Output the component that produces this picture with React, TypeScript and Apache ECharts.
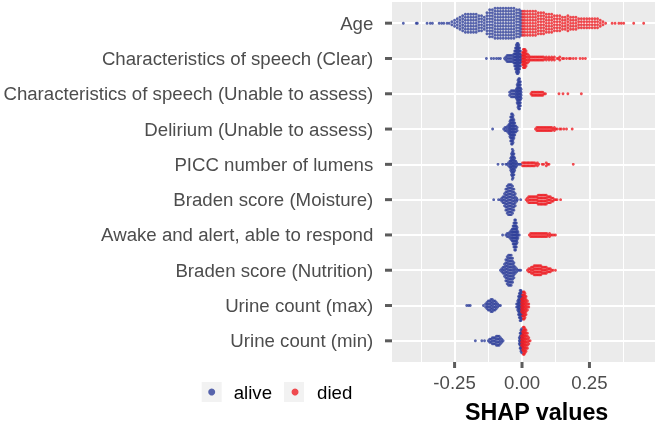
import React, { useEffect, useRef } from "react";
import * as echarts from "echarts";

const features = [
  "Age",
  "Characteristics of speech (Clear)",
  "Characteristics of speech (Unable to assess)",
  "Delirium (Unable to assess)",
  "PICC number of lumens",
  "Braden score (Moisture)",
  "Awake and alert, able to respond",
  "Braden score (Nutrition)",
  "Urine count (max)",
  "Urine count (min)",
];
const xTicks = [-0.25, 0, 0.25];
const xMinorLines = [-0.375, -0.125, 0.125, 0.375];
const groups = ["alive", "died"];

// [SHAP value, number of observations at that value]
const ageAlive = [
  [-0.44, 1], [-0.392, 1], [-0.388, 1], [-0.352, 1], [-0.34, 1], [-0.332, 1], [-0.307, 1], [-0.298, 1],
  [-0.29, 1], [-0.278, 1], [-0.27, 1],
  [-0.26, 2], [-0.25, 3], [-0.24, 4], [-0.23, 5], [-0.22, 6], [-0.21, 7], [-0.2, 7], [-0.19, 7], [-0.18, 7],
  [-0.17, 7], [-0.16, 6], [-0.15, 6], [-0.14, 5],
  [-0.13, 8], [-0.12, 10], [-0.11, 10], [-0.1, 11], [-0.09, 11], [-0.08, 11], [-0.07, 11], [-0.06, 11],
  [-0.05, 11], [-0.04, 11], [-0.03, 11], [-0.02, 10], [-0.01, 10], [-0.003, 9],
];
const ageDied = [
  [0.003, 9], [0.01, 9], [0.02, 9], [0.03, 9], [0.04, 9], [0.05, 9], [0.06, 8], [0.07, 8], [0.08, 8],
  [0.09, 7], [0.1, 7], [0.11, 7], [0.12, 6], [0.13, 6], [0.14, 6], [0.15, 5], [0.16, 5], [0.17, 6],
  [0.18, 5], [0.19, 5], [0.2, 5], [0.21, 4], [0.22, 4], [0.23, 4], [0.24, 4], [0.25, 4], [0.26, 4],
  [0.27, 4], [0.28, 4], [0.29, 3], [0.3, 2], [0.31, 1], [0.334, 1], [0.345, 1], [0.359, 1], [0.368, 1],
  [0.377, 1], [0.414, 1], [0.451, 1],
];
const clearAlive = [
  [-0.132, 1], [-0.114, 1], [-0.105, 1], [-0.095, 1], [-0.087, 1], [-0.08, 1], [-0.065, 1], [-0.06, 2],
  [-0.055, 3], [-0.05, 3], [-0.045, 3], [-0.04, 3], [-0.035, 3], [-0.03, 4], [-0.027, 6], [-0.024, 8],
  [-0.021, 10], [-0.018, 11], [-0.015, 11], [-0.012, 10], [-0.009, 8], [-0.006, 6], [-0.003, 3],
];
const clearDied = [
  [0.002, 5], [0.005, 7], [0.008, 7], [0.011, 7], [0.015, 6], [0.02, 4], [0.025, 3], [0.03, 2], [0.035, 2],
  [0.04, 2], [0.045, 2], [0.05, 2], [0.055, 2], [0.06, 2], [0.065, 2], [0.07, 2], [0.075, 2], [0.08, 2],
  [0.085, 1], [0.09, 2], [0.095, 1], [0.1, 2], [0.105, 1], [0.11, 2], [0.115, 1], [0.12, 2], [0.13, 1],
  [0.135, 1], [0.14, 2], [0.15, 1], [0.155, 1], [0.165, 1], [0.175, 1], [0.18, 1], [0.19, 1], [0.2, 1],
  [0.215, 1], [0.225, 1], [0.235, 1],
];
const unableAlive = [
  [-0.046, 2], [-0.04, 3], [-0.035, 3], [-0.03, 3], [-0.025, 3], [-0.021, 4], [-0.018, 7], [-0.015, 10],
  [-0.012, 11], [-0.009, 11], [-0.006, 9], [-0.003, 4],
];
const unableDied = [
  [0.033, 1], [0.037, 2], [0.042, 2], [0.047, 2], [0.052, 2], [0.057, 2], [0.062, 2], [0.067, 2],
  [0.072, 2], [0.077, 2], [0.082, 1], [0.087, 1], [0.137, 1], [0.152, 1], [0.17, 1], [0.22, 1],
];
const deliriumAlive = [
  [-0.109, 1], [-0.068, 1], [-0.063, 2], [-0.058, 2], [-0.053, 3], [-0.048, 4], [-0.045, 6], [-0.042, 9],
  [-0.039, 11], [-0.036, 11], [-0.033, 10], [-0.03, 7], [-0.027, 5], [-0.023, 3], [-0.018, 2],
];
const deliriumDied = [
  [0.05, 1], [0.055, 2], [0.06, 2], [0.065, 2], [0.07, 2], [0.075, 2], [0.08, 2], [0.085, 2], [0.09, 2],
  [0.095, 2], [0.1, 2], [0.105, 2], [0.11, 2], [0.115, 1], [0.12, 2], [0.125, 1], [0.13, 1], [0.14, 1],
  [0.145, 1], [0.155, 1], [0.165, 1], [0.186, 1],
];
const piccAlive = [
  [-0.089, 1], [-0.072, 1], [-0.06, 1], [-0.055, 1], [-0.05, 2], [-0.045, 3], [-0.042, 5], [-0.039, 8],
  [-0.036, 11], [-0.033, 10], [-0.03, 8], [-0.027, 5], [-0.023, 3], [-0.02, 2], [-0.015, 1], [-0.01, 1],
  [-0.005, 1],
];
const piccDied = [
  [0.002, 2], [0.007, 2], [0.012, 2], [0.017, 2], [0.022, 2], [0.027, 2], [0.032, 2], [0.037, 2],
  [0.042, 2], [0.047, 2], [0.052, 1], [0.057, 2], [0.062, 1], [0.075, 1], [0.08, 1], [0.09, 2],
  [0.095, 1], [0.1, 1], [0.19, 1],
];
const moistureAlive = [
  [-0.105, 1], [-0.087, 1], [-0.08, 1], [-0.075, 2], [-0.07, 3], [-0.065, 5], [-0.06, 8], [-0.055, 10],
  [-0.05, 11], [-0.045, 11], [-0.04, 11], [-0.035, 10], [-0.03, 8], [-0.025, 5], [-0.02, 2], [-0.017, 1],
  [-0.005, 1],
];
const moistureDied = [
  [0.015, 1], [0.02, 2], [0.025, 3], [0.03, 3], [0.035, 3], [0.04, 3], [0.045, 3], [0.05, 3], [0.055, 3],
  [0.06, 4], [0.065, 4], [0.07, 4], [0.075, 4], [0.08, 4], [0.085, 4], [0.09, 4], [0.095, 3], [0.1, 3],
  [0.105, 3], [0.11, 2], [0.115, 2], [0.12, 1], [0.125, 1], [0.13, 1], [0.143, 1],
];
const awakeAlive = [
  [-0.072, 1], [-0.06, 1], [-0.055, 2], [-0.05, 2], [-0.045, 3], [-0.04, 4], [-0.036, 5], [-0.033, 7],
  [-0.03, 9], [-0.027, 11], [-0.024, 11], [-0.021, 9], [-0.018, 6], [-0.015, 3], [-0.01, 1],
];
const awakeDied = [
  [0.027, 1], [0.032, 2], [0.037, 2], [0.042, 2], [0.047, 2], [0.052, 2], [0.057, 2], [0.062, 2],
  [0.067, 2], [0.072, 2], [0.077, 2], [0.082, 2], [0.087, 2], [0.092, 2], [0.097, 1], [0.102, 2],
  [0.107, 1], [0.112, 1], [0.118, 1], [0.124, 1],
];
const nutritionAlive = [
  [-0.08, 1], [-0.075, 2], [-0.07, 3], [-0.065, 5], [-0.06, 8], [-0.055, 10], [-0.05, 11], [-0.045, 11],
  [-0.04, 11], [-0.035, 9], [-0.03, 6], [-0.025, 3], [-0.02, 2], [-0.015, 1], [-0.01, 1], [-0.005, 1],
];
const nutritionDied = [
  [0.02, 1], [0.025, 2], [0.03, 2], [0.035, 3], [0.04, 3], [0.045, 4], [0.05, 4], [0.055, 4], [0.06, 4],
  [0.065, 4], [0.07, 4], [0.075, 3], [0.08, 3], [0.085, 3], [0.09, 3], [0.095, 2], [0.1, 2], [0.105, 2],
  [0.11, 1], [0.115, 1], [0.124, 1],
];
const urineMaxAlive = [
  [-0.205, 1], [-0.198, 1], [-0.192, 1], [-0.143, 1], [-0.135, 2], [-0.13, 3], [-0.125, 4], [-0.12, 4],
  [-0.115, 5], [-0.11, 5], [-0.105, 4], [-0.1, 4], [-0.095, 3], [-0.09, 2], [-0.085, 1], [-0.08, 1],
  [-0.02, 2], [-0.016, 4], [-0.013, 7], [-0.01, 9], [-0.007, 11], [-0.004, 11], [-0.001, 10], [0.002, 7],
];
const urineMaxDied = [
  [-0.002, 5], [0.002, 8], [0.005, 10], [0.008, 10], [0.011, 9], [0.015, 7], [0.02, 4], [0.025, 2],
];
const urineMinAlive = [
  [-0.173, 1], [-0.149, 1], [-0.139, 1], [-0.125, 1], [-0.12, 2], [-0.115, 2], [-0.11, 3], [-0.105, 3],
  [-0.1, 3], [-0.095, 4], [-0.09, 4], [-0.085, 4], [-0.08, 3], [-0.075, 2], [-0.07, 1], [-0.01, 3],
  [-0.007, 6], [-0.004, 8], [-0.001, 9], [0.002, 5],
];
const urineMinDied = [
  [-0.002, 4], [0.002, 7], [0.005, 10], [0.008, 10], [0.011, 9], [0.015, 8], [0.02, 6], [0.025, 3], [0.03, 1],
];

const aliveByFeature = [
  ageAlive, clearAlive, unableAlive, deliriumAlive, piccAlive,
  moistureAlive, awakeAlive, nutritionAlive, urineMaxAlive, urineMinAlive,
];
const diedByFeature = [
  ageDied, clearDied, unableDied, deliriumDied, piccDied,
  moistureDied, awakeDied, nutritionDied, urineMaxDied, urineMinDied,
];

const BLUE = "#30409A";
const RED = "#EE1F26";
const TICK = "#333333";
const FONT = "'Liberation Sans', Arial, Helvetica, sans-serif";
const STACK = 0.085; // vertical spacing of stacked points, in row units
const X_MIN = -0.482;
const X_MAX = 0.493;
const Y_MIN = -0.6;
const Y_MAX = 9.6;

function swarm(binsByRow: number[][][]): number[][] {
  const pts: number[][] = [];
  binsByRow.forEach((bins, row) => {
    bins.forEach(([x, n]) => {
      for (let j = 0; j < n; j++) pts.push([x, row + (j - (n - 1) / 2) * STACK]);
    });
  });
  return pts;
}

export default function App() {
  const ref = useRef<HTMLDivElement>(null);
  useEffect(() => {
    if (!ref.current) return;
    const chart = echarts.init(ref.current, null, { renderer: "svg" });
    const rowIdx = features.map((_, i) => i);
    chart.setOption({
      animation: false,
      grid: {
        left: 392, right: 3, top: 2, bottom: 62,
        show: true, backgroundColor: "#EBEBEB", borderWidth: 0,
      },
      xAxis: [
        {
          type: "value", min: X_MIN, max: X_MAX, position: "bottom",
          axisLine: { show: false },
          axisTick: { show: false, customValues: xTicks },
          axisLabel: {
            customValues: xTicks, formatter: (v: number) => v.toFixed(2),
            color: "#4D4D4D", fontSize: 18.65, margin: 10.5, fontFamily: FONT,
          },
          splitLine: { show: true, lineStyle: { color: "#FFFFFF", width: 2 } },
        },
        {
          type: "value", min: X_MIN, max: X_MAX, position: "top",
          axisLine: { show: false },
          axisTick: { show: false, customValues: xMinorLines },
          axisLabel: { show: false, customValues: xMinorLines },
          splitLine: { show: true, lineStyle: { color: "#FFFFFF", width: 1 } },
        },
      ],
      yAxis: {
        type: "value", inverse: true, min: Y_MIN, max: Y_MAX,
        axisLine: { show: false },
        axisTick: { show: false, customValues: rowIdx },
        axisLabel: {
          customValues: rowIdx, formatter: (v: number) => features[Math.round(v)],
          color: "#4D4D4D", fontSize: 18.65, margin: 18.7, fontFamily: FONT,
        },
        splitLine: { show: true, lineStyle: { color: "#FFFFFF", width: 2 } },
      },
      title: {
        text: "SHAP values", left: 465, top: 400, padding: 0,
        textStyle: { fontSize: 23.3, fontWeight: "bold", color: "#000000", fontFamily: FONT },
      },
      legend: {
        data: groups, left: 208.2, top: 381, padding: 0, itemWidth: 7, itemHeight: 7,
        icon: "circle", itemGap: 19.5, z: 10,
        textStyle: { fontSize: 18.65, color: "#000000", fontFamily: FONT, padding: [0, 0, 0, 13.5], lineHeight: 22 },
      },
      graphic: {
        elements: [
          { type: "rect", left: 201.7, top: 382, z: 0, silent: true, shape: { width: 20, height: 20 }, style: { fill: "#F2F2F2" } },
          { type: "rect", left: 284, top: 382, z: 0, silent: true, shape: { width: 20, height: 20 }, style: { fill: "#F2F2F2" } },
        ],
      },
      series: [
        {
          name: groups[0], type: "scatter", data: swarm(aliveByFeature), symbolSize: 2.9,
          itemStyle: { color: BLUE }, silent: true, progressive: 0, large: false,
        },
        {
          name: groups[1], type: "scatter", data: swarm(diedByFeature), symbolSize: 2.9,
          itemStyle: { color: RED }, silent: true, progressive: 0, large: false,
        },
        {
          name: "y ticks", type: "scatter", data: rowIdx.map((r) => [X_MIN, r]),
          symbol: "rect", symbolSize: [7, 3], symbolOffset: [-3.5, 0], clip: false,
          itemStyle: { color: TICK }, silent: true, z: 5,
        },
        {
          name: "x ticks", type: "scatter", data: xTicks.map((v) => [v, Y_MAX]),
          symbol: "rect", symbolSize: [3, 6], symbolOffset: [0, 3], clip: false,
          itemStyle: { color: TICK }, silent: true, z: 5,
        },
      ],
    });
    return () => chart.dispose();
  }, []);
  return (
    <div
      ref={ref}
      style={{ position: "fixed", left: 0, top: 0, width: 658, height: 424 }}
    />
  );
}
